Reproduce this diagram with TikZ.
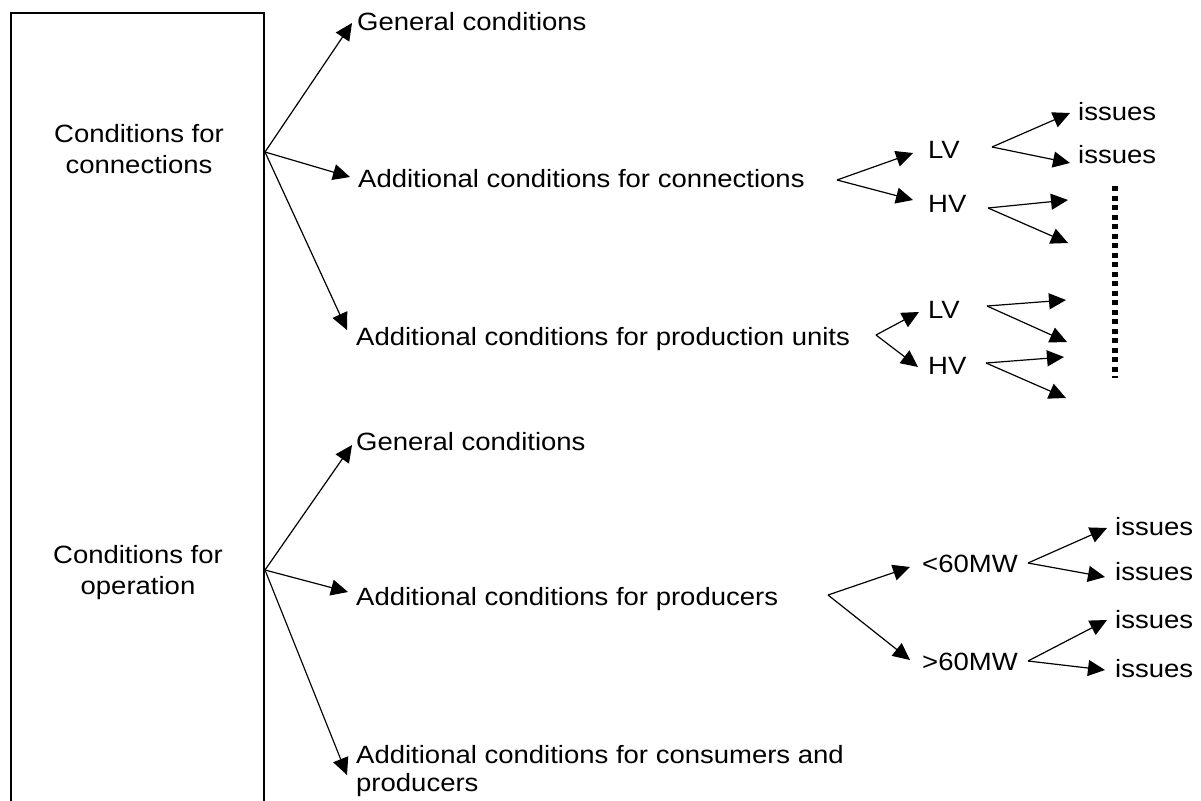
\documentclass[tikz,border=0pt]{standalone}
\usepackage{fontspec}
\setmainfont{Liberation Sans}[FakeStretch=1.1]
\usetikzlibrary{arrows.meta}
\begin{document}
\begin{tikzpicture}[x=1pt,y=-1pt,
  lbl/.style={inner sep=0pt, anchor=base west, font=\fontsize{25}{31}\selectfont},
  boxtxt/.style={inner sep=0pt, anchor=base, align=center, font=\fontsize{25}{31}\selectfont},
  frame/.style={draw, line width=2pt, anchor=north west, minimum width=253pt, minimum height=830pt, inner sep=0pt},
  arr/.style={line width=1.2pt, -{Triangle[length=17pt,width=16pt]}},
  dotline/.style={line width=6pt, dash pattern=on 5pt off 4.5pt}]
\useasboundingbox[fill=white] (0,0) rectangle (1201,800);

% left frame with the two main headings (base = last line)
\node[frame] (frame) at (10,12) {};
\node[boxtxt] (conn) at (139,173) {Conditions for\\connections};
\node[boxtxt] (oper) at (138,594) {Conditions for\\operation};
\coordinate (c1) at (265,152);
\coordinate (c2) at (265,570);

% branches for connections
\node[lbl] (gen1) at (357,31) {General conditions};
\node[lbl] (addc) at (358,187) {Additional conditions for connections};
\node[lbl] (addp) at (356,345) {Additional conditions for production units};

\node[lbl] (lv1) at (928,158) {LV};
\node[lbl] (hv1) at (928,212) {HV};
\node[lbl] (is1) at (1078,120) {issues};
\node[lbl] (is2) at (1078,163) {issues};
\node[lbl] (lv2) at (928,318) {LV};
\node[lbl] (hv2) at (928,374) {HV};

% branches for operation
\node[lbl] (gen2) at (356,450) {General conditions};
\node[lbl] (addpr) at (356,605) {Additional conditions for producers};
\node[lbl, align=left, font=\fontsize{25}{28}\selectfont] (addcp) at (356,791) {Additional conditions for consumers and\\producers};

\node[lbl] (lt) at (922,572) {<60MW};
\node[lbl] (gt) at (922,670) {>60MW};
\node[lbl] (is3) at (1115,535) {issues};
\node[lbl] (is4) at (1115,580) {issues};
\node[lbl] (is5) at (1115,628) {issues};
\node[lbl] (is6) at (1115,677) {issues};

% fork points
\coordinate (f1) at (837,180);
\coordinate (f2) at (992,147);
\coordinate (f3) at (988,208);
\coordinate (f4) at (876,335);
\coordinate (f5) at (987,306);
\coordinate (f6) at (986,363);
\coordinate (f7) at (828,595);
\coordinate (f8) at (1028,563);
\coordinate (f9) at (1028,661);

% open arrow ends without labels
\coordinate (o1) at (1068,200);
\coordinate (o2) at (1068,243);
\coordinate (o3) at (1066,300);
\coordinate (o4) at (1067,342);
\coordinate (o5) at (1064,357);
\coordinate (o6) at (1066,398);

% dotted continuation marker
\coordinate (d1) at (1115,186);
\coordinate (d2) at (1115,378);

% connectors
\draw[arr] (c1) -- ([shift={(-5,-8)}]gen1.base west);
\draw[arr] (c1) -- ([shift={(-8,-10)}]addc.base west);
\draw[arr] (c1) -- ([shift={(-9,-15)}]addp.base west);

\draw[arr] (f1) -- ([shift={(-15,-5)}]lv1.base west);
\draw[arr] (f1) -- ([shift={(-15,-12)}]hv1.base west);
\draw[arr] (f2) -- ([shift={(-8,-7)}]is1.base west);
\draw[arr] (f2) -- ([shift={(-8,0)}]is2.base west);
\draw[arr] (f3) -- (o1);
\draw[arr] (f3) -- (o2);

\draw[arr] (f4) -- ([shift={(-9,-6)}]lv2.base west);
\draw[arr] (f4) -- ([shift={(-10,-7)}]hv2.base west);
\draw[arr] (f5) -- (o3);
\draw[arr] (f5) -- (o4);
\draw[arr] (f6) -- (o5);
\draw[arr] (f6) -- (o6);

\draw[arr] (c2) -- ([shift={(-4,-5)}]gen2.base west);
\draw[arr] (c2) -- ([shift={(-8,-13)}]addpr.base west);
\draw[arr] (c2) -- ([shift={(-9,-16)}]addcp.base west);

\draw[arr] (f7) -- ([shift={(-12,-5)}]lt.base west);
\draw[arr] (f7) -- ([shift={(-12,-10)}]gt.base west);
\draw[arr] (f8) -- ([shift={(-8,-7)}]is3.base west);
\draw[arr] (f8) -- ([shift={(-10,-3)}]is4.base west);
\draw[arr] (f9) -- ([shift={(-8,-8)}]is5.base west);
\draw[arr] (f9) -- ([shift={(-10,-7)}]is6.base west);

\draw[dotline] (d1) -- (d2);
\end{tikzpicture}
\end{document}
